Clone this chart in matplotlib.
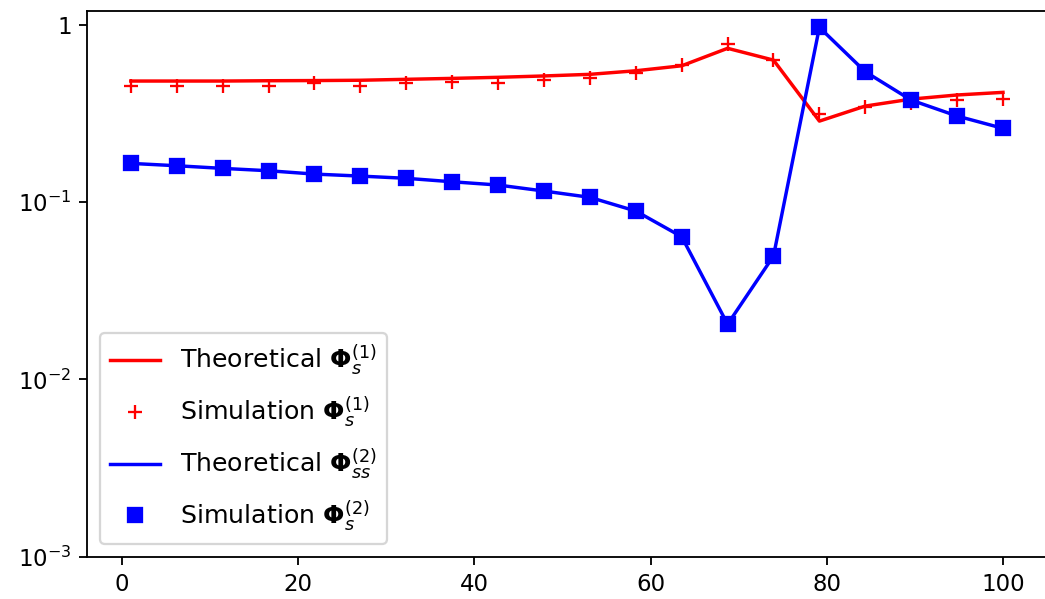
import numpy as np
import matplotlib
matplotlib.use('Agg')
import matplotlib.pyplot as plt
from matplotlib.ticker import NullLocator

# --------- data ---------
x_values = [1.0, 6.21, 11.42, 16.63, 21.84, 27.05, 32.26, 37.47, 42.68, 47.89,
            53.11, 58.32, 63.53, 68.74, 73.95, 79.16, 84.37, 89.58, 94.79, 100.0]

theory_1 = [0.483, 0.483, 0.483, 0.485, 0.486, 0.488, 0.494, 0.500, 0.507, 0.516,
            0.527, 0.552, 0.589, 0.739, 0.634, 0.287, 0.349, 0.382, 0.403, 0.417]

sim_1 = [0.453, 0.453, 0.453, 0.453, 0.469, 0.453, 0.469, 0.479, 0.473, 0.489,
         0.500, 0.538, 0.595, 0.778, 0.634, 0.313, 0.343, 0.361, 0.377, 0.384]

theory_2 = [0.1657, 0.1607, 0.1553, 0.1506, 0.1442, 0.1405, 0.1365, 0.1305, 0.1251, 0.1157,
            0.1066, 0.0892, 0.0639, 0.0205, 0.0497, 0.970, 0.545, 0.377, 0.3065, 0.2612]

sim_2 = theory_2

# --------- figure ---------
plt.rcParams['axes.formatter.min_exponent'] = 1

dpi = 165
fig = plt.figure(figsize=(1045 / dpi, 599 / dpi), dpi=dpi)
ax = fig.add_axes([87.2 / 1045, 1 - 556.7 / 599, 959.4 / 1045, (556.7 - 11) / 599])

ax.plot(x_values, theory_1, color='red', linestyle='-', label=r'Theoretical $\boldsymbol{\Phi}_s^{(1)}$')
ax.plot(x_values, sim_1, color='red', linestyle='none', marker='+', label=r'Simulation $\boldsymbol{\Phi}_s^{(1)}$')
ax.plot(x_values, theory_2, color='blue', linestyle='-', label=r'Theoretical $\boldsymbol{\Phi}_{ss}^{(2)}$')
ax.plot(x_values, sim_2, color='blue', linestyle='none', marker='s', label=r'Simulation $\boldsymbol{\Phi}_s^{(2)}$')

ax.set_yscale('log')
ax.set_ylim(1e-3, 1.2)
ax.yaxis.set_minor_locator(NullLocator())
ax.legend(loc='lower left', fontsize=11, labelspacing=0.65)

fig.savefig('out.png', dpi=dpi)
